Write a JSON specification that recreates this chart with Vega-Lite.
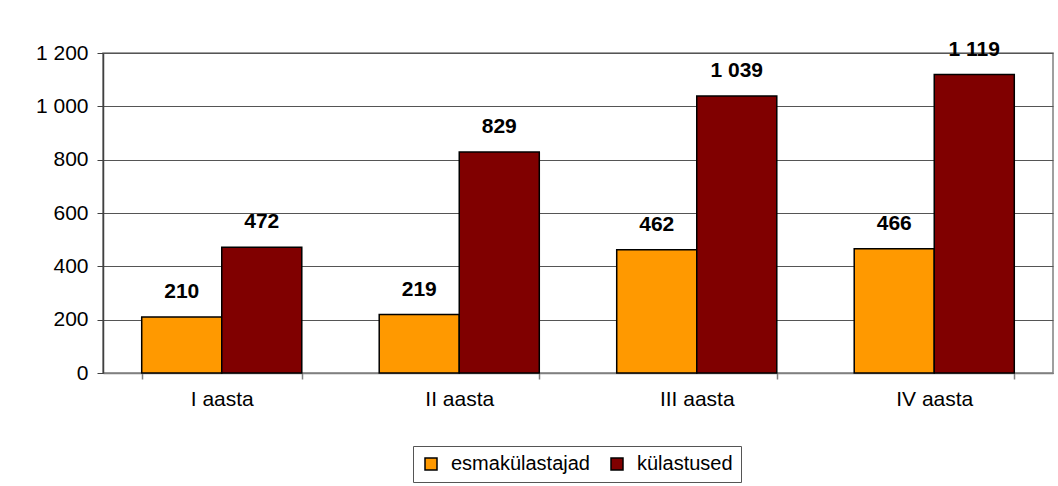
{
  "$schema": "https://vega.github.io/schema/vega-lite/v6.json",
  "width": 950,
  "height": 320,
  "autosize": {"type": "none"},
  "padding": {"left": 103, "top": 53, "right": 5, "bottom": 113},
  "background": "white",
  "config": {
    "locale": {"number": {"decimal": ",", "thousands": " ", "grouping": [3], "currency": ["", ""]}},
    "font": "Liberation Sans",
    "view": {"stroke": "#808080", "strokeWidth": 1.5}
  },
  "data": {
    "values": [
      {"aasta": "I aasta", "series": "esmakülastajad", "value": 210},
      {"aasta": "I aasta", "series": "külastused", "value": 472},
      {"aasta": "II aasta", "series": "esmakülastajad", "value": 219},
      {"aasta": "II aasta", "series": "külastused", "value": 829},
      {"aasta": "III aasta", "series": "esmakülastajad", "value": 462},
      {"aasta": "III aasta", "series": "külastused", "value": 1039},
      {"aasta": "IV aasta", "series": "esmakülastajad", "value": 466},
      {"aasta": "IV aasta", "series": "külastused", "value": 1119}
    ]
  },
  "encoding": {
    "x": {
      "field": "aasta", "type": "nominal", "sort": null,
      "scale": {"paddingInner": 0.326, "paddingOuter": 0.163},
      "axis": {
        "title": null, "labelAngle": 0, "labelFontSize": 21, "labelColor": "#000",
        "tickBand": "extent", "tickSize": 6, "tickColor": "#808080", "tickWidth": 1.5,
        "domainColor": "#808080", "domainWidth": 1.5, "labelPadding": 9
      }
    },
    "xOffset": {"field": "series", "type": "nominal", "scale": {"paddingInner": 0, "paddingOuter": 0}},
    "y": {
      "field": "value", "type": "quantitative",
      "scale": {"domain": [0, 1200], "nice": false},
      "axis": {
        "title": null, "values": [0, 200, 400, 600, 800, 1000, 1200], "format": ",.0f",
        "labelFontSize": 21, "labelColor": "#000", "tickSize": 6, "tickColor": "#404040",
        "labelPadding": 9, "domainColor": "#404040", "domainWidth": 1.5,
        "grid": true, "gridColor": "#555555", "gridWidth": 1
      }
    }
  },
  "layer": [
    {
      "mark": {"type": "bar", "stroke": "#000", "strokeWidth": 1.5},
      "encoding": {
        "color": {
          "field": "series", "type": "nominal",
          "scale": {"domain": ["esmakülastajad", "külastused"], "range": ["#FF9900", "#800000"]},
          "legend": {
            "title": null, "orient": "none", "legendX": 310, "legendY": 393,
            "direction": "horizontal", "columns": 2,
            "symbolType": "square", "symbolSize": 144, "symbolStrokeColor": "#000", "symbolStrokeWidth": 1.5,
            "labelFontSize": 20, "labelColor": "#000", "labelOffset": 10, "columnPadding": 17,
            "strokeColor": "#555555", "fillColor": "white", "padding": 8
          }
        }
      }
    },
    {
      "mark": {"type": "text", "fontSize": 21, "fontWeight": "bold", "dy": -25, "baseline": "middle", "color": "#000"},
      "encoding": {
        "text": {"field": "value", "type": "quantitative", "format": ",.0f"}
      }
    }
  ]
}
